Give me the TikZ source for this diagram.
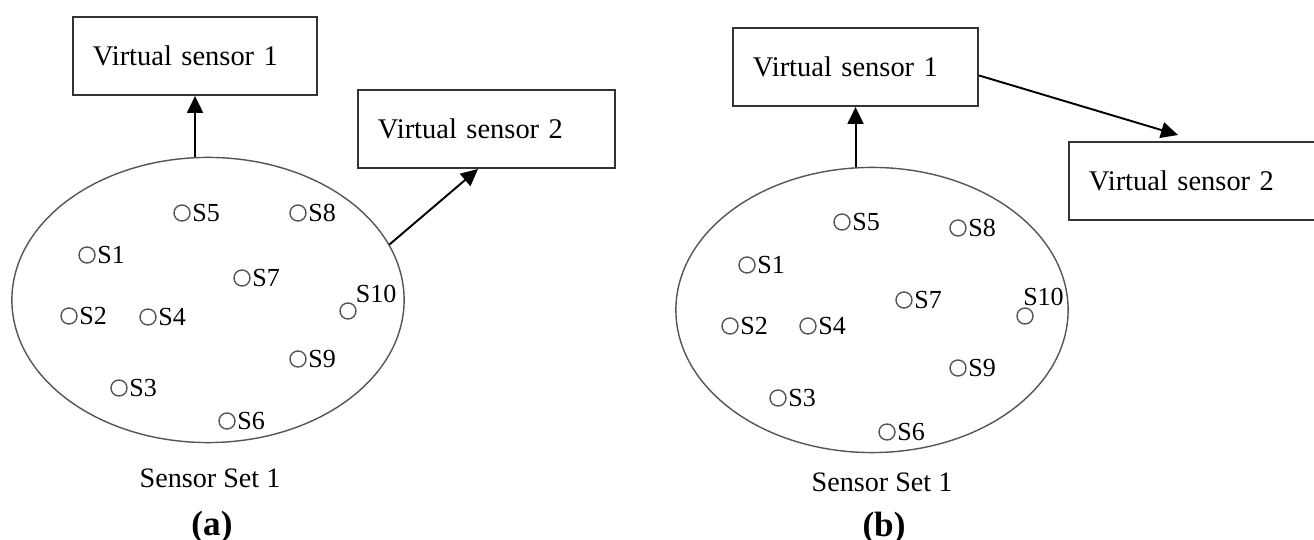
\documentclass[tikz,border=0pt]{standalone}
\usepackage{fontspec}
\setmainfont{Liberation Serif}
\usetikzlibrary{arrows.meta}
\usetikzlibrary{positioning}
\usetikzlibrary{shapes.geometric}
\definecolor{boxgray}{HTML}{333333}
\definecolor{setgray}{HTML}{555555}

\tikzset{
	vbox/.style={draw=boxgray, line width=0.55pt, anchor=north west,
		minimum height=0.78cm, inner xsep=0.2cm, align=left,
		font=\fontsize{8.1}{9.7}\selectfont},
	sensorset/.style={ellipse, draw=setgray, line width=0.4pt, inner sep=0pt,
		minimum width=3.92cm, minimum height=2.85cm},
	sensor/.style={circle, draw=setgray, line width=0.4pt,
		minimum size=0.16cm, inner sep=0pt},
	stag/.style={inner sep=0.3pt, font=\fontsize{7.4}{8.9}\selectfont},
	caption/.style={font=\fontsize{8}{9.6}\selectfont},
	link/.style={-{Triangle[length=0.17cm, width=0.16cm]}, line width=0.55pt},
}

\begin{document}
\begin{tikzpicture}[x=0.01cm, y=-0.01cm]
	\useasboundingbox (0,0) rectangle (1314,540);
	\clip (0,0) rectangle (1314,540);

	% (a)
	\node[sensorset] (seta) at (208,300) {};
	\node[vbox, text width=2.04cm] (vs1a) at (72,16) {Virtual sensor 1};
	\node[vbox, text width=2.17cm] (vs2a) at (357,89) {Virtual sensor 2};

	\foreach \n/\x/\y in {1/87/255, 2/69/316, 3/119/388, 4/148/317, 5/182/213,
		6/227/421, 7/242/278, 8/298/213, 9/298/359}{
		\node[sensor] (a-\n) at (\x,\y) {};
		\node[stag, right=0pt of a-\n] (a-\n-t) {S\n};
	}
	\node[sensor] (a-10) at (348,311) {};
	\node[stag, anchor=south west] (a-10-t) at (a-10.north east) {S10};

	\draw[link]
		(vs1a.south |- seta.north) -- (vs1a.south);
	\draw[link]
		(seta.17) -- ([xshift=-0.085cm]vs2a.south);

	\node[caption] (capa) at (210,478) {Sensor Set 1};
	\node[caption, font=\fontsize{10}{12}\selectfont] (taga) at (212,527) {\textbf{(a)}};

	% (b)
	\node[sensorset] (setb) at (872,310) {};
	\node[vbox, text width=2.05cm] (vs1b) at (732,27) {Virtual sensor 1};
	\node[vbox, text width=2.12cm] (vs2b) at (1068,141) {Virtual sensor 2};

	\foreach \n/\x/\y in {1/747/265, 2/730/326, 3/778/398, 4/808/326, 5/842/222,
		6/887/432, 7/904/300, 8/958/228, 9/958/368}{
		\node[sensor] (b-\n) at (\x,\y) {};
		\node[stag, right=0pt of b-\n] (b-\n-t) {S\n};
	}
	\node[sensor] (b-10) at (1025,316) {};
	\node[stag, anchor=south west] (b-10-t) at ([xshift=-0.035cm]b-10.north) {S10};

	\draw[link]
		(vs1b.south |- setb.north) -- (vs1b.south);
	\draw[link]
		([yshift=-0.085cm]vs1b.east) -- ([xshift=-0.17cm, yshift=0.06cm]vs2b.north);

	\node[caption] (capb) at (882,482) {Sensor Set 1};
	\node[caption, font=\fontsize{10}{12}\selectfont] (tagb) at (884,528) {\textbf{(b)}};
\end{tikzpicture}
\end{document}
